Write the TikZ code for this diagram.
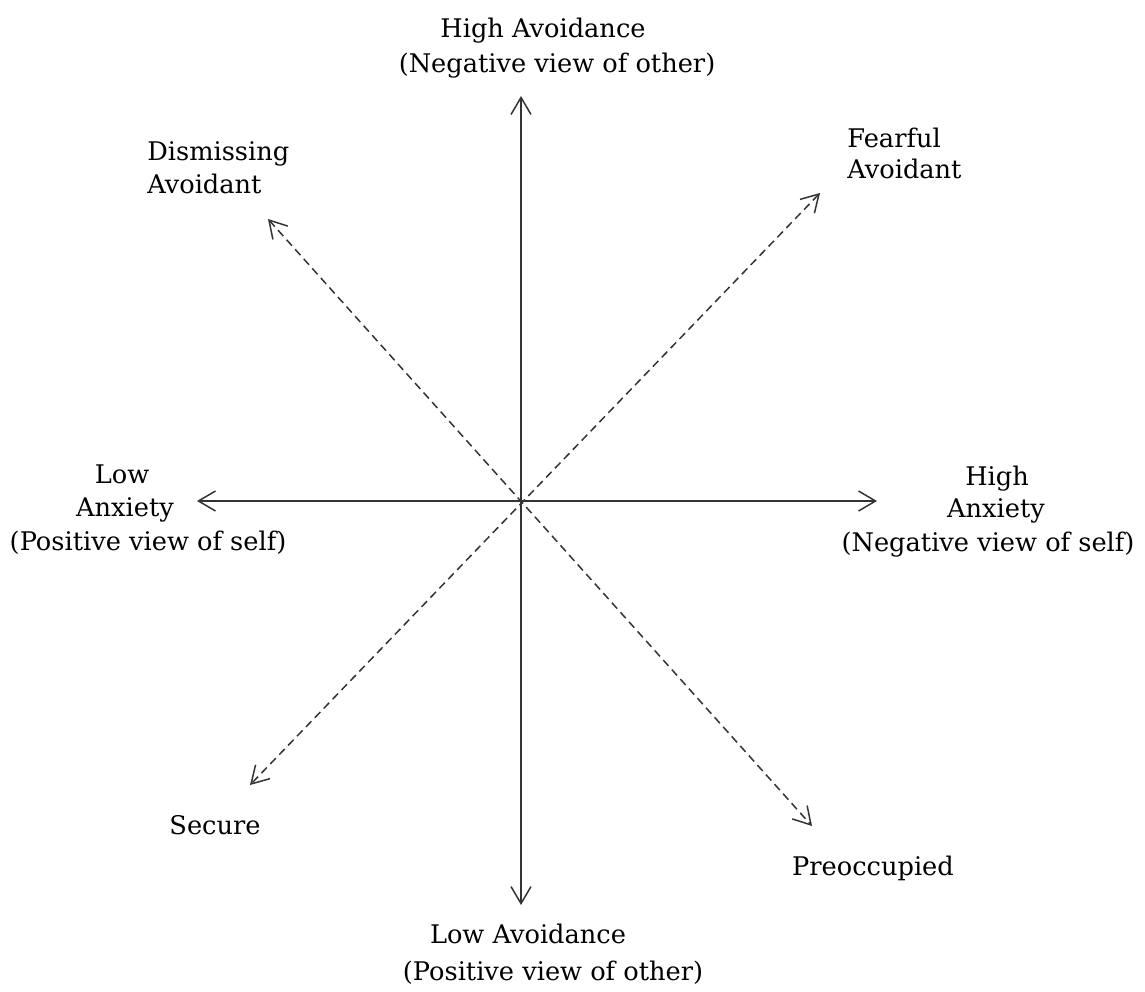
\documentclass[tikz,border=0pt]{standalone}
\usepackage{fontspec}
\setmainfont{DejaVu Serif}
\usetikzlibrary{arrows.meta}
\begin{document}
\begin{tikzpicture}[x=0.02cm,y=-0.02cm,
    axisline/.style={draw=black!80,line width=0.85pt,
      {Straight Barb[length=3.4mm,width=4mm]}-{Straight Barb[length=3.4mm,width=4mm]}},
    diagline/.style={axisline,dash pattern=on 4.5pt off 2.8pt},
    txt/.style={anchor=base,inner sep=0pt,font=\fontsize{14.6}{17}\selectfont}]
        \useasboundingbox (0,0) rectangle (1145,991);
        \coordinate (T) at (521,96);
        \coordinate (B) at (521,905);
        \coordinate (L) at (197,501);
        \coordinate (R) at (877,501);
        \coordinate (UL) at (268,219);
        \coordinate (LR) at (812,826);
        \coordinate (UR) at (820,193);
        \coordinate (LL) at (250,785);
        \draw[axisline] (T) -- (B);
        \draw[axisline] (L) -- (R);
        \draw[diagline] (UL) -- (LR);
        \draw[diagline] (UR) -- (LL);
        \node[txt] (hiav) at (543,37) {High Avoidance};
        \node[txt] (negoth) at (557,72) {(Negative view of other)};
        \node[txt] (loav) at (528,943) {Low Avoidance};
        \node[txt] (posoth) at (553,980) {(Positive view of other)};
        \node[txt] (low) at (122,483) {Low};
        \node[txt] (lanx) at (125,516) {Anxiety};
        \node[txt] (posself) at (148,550) {(Positive view of self)};
        \node[txt] (high) at (997,485) {High};
        \node[txt] (hanx) at (996,517) {Anxiety};
        \node[txt] (negself) at (988,551) {(Negative view of self)};
        \node[txt,anchor=base west] (dism) at (147,160) {Dismissing};
        \node[txt,anchor=base west] (dismav) at (147,193) {Avoidant};
        \node[txt,anchor=base west] (fear) at (847,147) {Fearful};
        \node[txt,anchor=base west] (fearav) at (847,178) {Avoidant};
        \node[txt] (sec) at (215,834) {Secure};
        \node[txt] (preo) at (873,875) {Preoccupied};
    \end{tikzpicture}
\end{document}
